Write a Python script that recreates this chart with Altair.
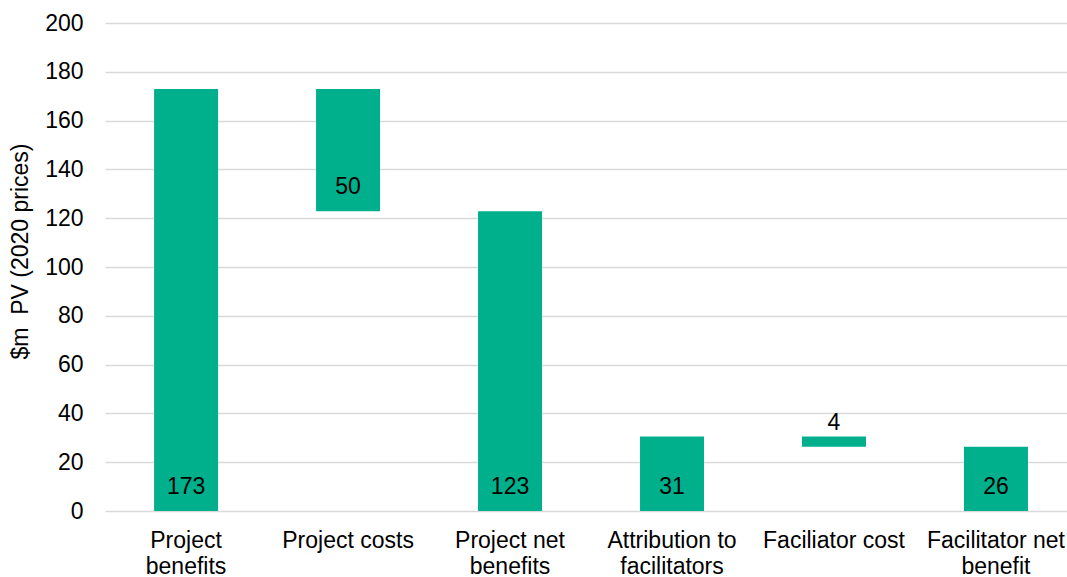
import altair as alt
import pandas as pd

categories = ["Project\nbenefits", "Project costs", "Project net\nbenefits",
              "Attribution to\nfacilitators", "Faciliator cost", "Facilitator net\nbenefit"]
bar_start = [0, 122.8, 0, 0, 26.3, 0]
bar_end = [173, 173, 122.8, 30.5, 30.5, 26.3]
label_text = ["173", "50", "123", "31", "4", "26"]
label_place = ["inside", "inside", "inside", "inside", "above", "inside"]
y_ticks = [0, 20, 40, 60, 80, 100, 120, 140, 160, 180, 200]

df = pd.DataFrame({
    "cat": categories,
    "start": bar_start,
    "end": bar_end,
    "label": label_text,
    "place": label_place,
})

FONT = "Liberation Sans"
GREEN = "#00B08C"
FS = 23

x_enc = alt.X(
    "cat:N", sort=categories, title=None,
    scale=alt.Scale(paddingInner=0.605, paddingOuter=0.272, align=0.557),
    axis=alt.Axis(labelAngle=0, labelFontSize=FS, labelFont=FONT, labelColor="black",
                  ticks=False, domain=False, grid=False, labelPadding=18,
                  labelLineHeight=26, labelExpr="split(datum.label, '\\n')",
                  labelBaseline="top"),
)

bars = alt.Chart(df).mark_bar(color=GREEN).encode(
    x=x_enc,
    y=alt.Y("start:Q", title="$m\u00a0\u00a0PV (2020 prices)",
            scale=alt.Scale(domain=[0, 200], nice=False),
            axis=alt.Axis(values=y_ticks, labelFontSize=FS, labelFont=FONT, labelColor="black",
                          titleFontSize=FS, titleFont=FONT, titleFontWeight="normal",
                          titleColor="black", titlePadding=12, labelPadding=22,
                          titleY=228,
                          ticks=False, domain=False, gridColor="#d9d9d9", gridWidth=1.5)),
    y2="end:Q",
)

inside = alt.Chart(df).transform_filter(alt.datum.place == "inside").mark_text(
    fontSize=FS, font=FONT, color="black", baseline="alphabetic", dy=-17
).encode(x=alt.X("cat:N", sort=categories), y="start:Q", text="label:N")

above = alt.Chart(df).transform_filter(alt.datum.place == "above").mark_text(
    fontSize=FS, font=FONT, color="black", baseline="alphabetic", dy=-7
).encode(x=alt.X("cat:N", sort=categories), y="end:Q", text="label:N")

chart = (bars + inside + above).properties(
    width=962, height=488,
    autosize=alt.AutoSizeParams(type="none"),
    padding={"left": 105, "top": 23, "right": 0, "bottom": 66},
).configure_view(stroke=None)

chart.save("out.html", embed_options={"renderer": "svg", "actions": False})
